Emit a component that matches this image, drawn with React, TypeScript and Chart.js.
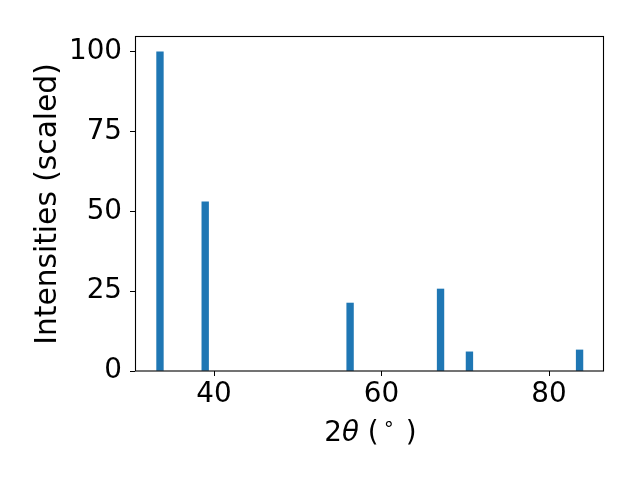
import React, { useEffect, useRef } from "react";
import { Chart, registerables } from "chart.js";

Chart.register(...registerables);

// Peak positions (2θ, degrees) and scaled intensities
const twoTheta = [33.55, 38.95, 56.25, 67.05, 70.5, 83.65];
const intensities = [100, 53, 21.3, 25.7, 6.0, 6.6];
const xTicks = [40, 60, 80];
const yTicks = [0, 25, 50, 75, 100];
const yTitle = "Intensities (scaled)";

const FONT = '"DejaVu Sans"';
const FS = 27.8;

const titlesPlugin = {
  id: "titles",
  afterDatasetsDraw(chart: any) {
    const ctx = chart.ctx as CanvasRenderingContext2D;
    const a = chart.chartArea;
    ctx.save();
    ctx.strokeStyle = "#000";
    ctx.lineWidth = 1.1;
    ctx.strokeRect(a.left + 0.5, a.top + 0.5, a.right - a.left - 1, a.bottom - a.top - 0.5);
    ctx.restore();
  },
  afterDraw(chart: any) {
    const ctx = chart.ctx as CanvasRenderingContext2D;
    const a = chart.chartArea;
    ctx.save();
    ctx.fillStyle = "#000";
    // y title
    ctx.save();
    ctx.translate(55.5, (a.top + a.bottom) / 2 + 0.5);
    ctx.rotate(-Math.PI / 2);
    ctx.font = `29.7px ${FONT}`;
    ctx.textAlign = "center";
    ctx.textBaseline = "alphabetic";
    ctx.fillText(yTitle, 0, 0);
    ctx.restore();

    // x title: 2θ ( ° )
    const normal = `${FS}px ${FONT}`;
    const italic = `oblique ${FS}px ${FONT}`;
    const small = `${FS * 0.7}px ${FONT}`;
    const parts: any[] = [
      { t: "2", f: normal, dy: 0, gap: 0 },
      { t: "θ", f: italic, dy: 0, gap: 0 },
      { t: " (", f: normal, dy: 0, gap: 4 },
      { t: "∘", f: small, dy: -10.6, gap: 11 },
      { t: ")", f: normal, dy: 0, gap: 0 },
    ];
    ctx.textAlign = "left";
    ctx.textBaseline = "alphabetic";
    let total = 0;
    for (const p of parts) {
      ctx.font = p.f;
      p.w = ctx.measureText(p.t).width;
      total += p.w + p.gap;
    }
    let x = (a.left + a.right) / 2 - total / 2 + 1;
    const base = 441;
    for (const p of parts) {
      ctx.font = p.f;
      ctx.fillText(p.t, x, base + p.dy);
      x += p.w + p.gap;
    }
    ctx.restore();
  },
};

export default function App() {
  const ref = useRef<HTMLCanvasElement>(null);
  useEffect(() => {
    if (!ref.current) return;
    const chart = new Chart(ref.current, {
      type: "bar",
      data: {
        datasets: [
          {
            data: twoTheta.map((x, i) => ({ x, y: intensities[i] })),
            backgroundColor: "#1f77b4",
            borderWidth: 0,
            barThickness: 6.7,
          } as any,
        ],
      },
      options: {
        responsive: false,
        animation: false,
        layout: { padding: { top: 36, right: 36, left: 0, bottom: 0 } },
        plugins: { legend: { display: false }, tooltip: { enabled: false } },
        scales: {
          x: {
            type: "linear",
            min: 30.567,
            max: 86.567,
            offset: false,
            grid: {
              display: true,
              drawOnChartArea: false,
              drawTicks: true,
              tickLength: 5,
              color: "#000",
              offset: false,
            },
            border: { display: false },
            ticks: {
              font: { family: FONT, size: FS },
              color: "#000",
              padding: 2,
              maxRotation: 0,
              autoSkip: false,
            },
            afterBuildTicks: (s: any) => {
              s.ticks = xTicks.map((v) => ({ value: v }));
            },
            afterFit: (s: any) => {
              s.height = 109;
            },
          },
          y: {
            type: "linear",
            min: 0,
            max: 105,
            grid: {
              display: true,
              drawOnChartArea: false,
              drawTicks: true,
              tickLength: 5,
              color: "#000",
            },
            border: { display: false },
            ticks: {
              font: { family: FONT, size: FS },
              color: "#000",
              padding: 8,
              autoSkip: false,
            },
            afterBuildTicks: (s: any) => {
              s.ticks = yTicks.map((v) => ({ value: v }));
            },
            afterFit: (s: any) => {
              s.width = 135;
            },
          },
        } as any,
      },
      plugins: [titlesPlugin],
    });
    return () => chart.destroy();
  }, []);
  return (
    <div style={{ position: "absolute", left: 0, top: 0, width: 640, height: 480, background: "#fff" }}>
      <canvas ref={ref} width={640} height={480} style={{ display: "block" }} />
    </div>
  );
}
